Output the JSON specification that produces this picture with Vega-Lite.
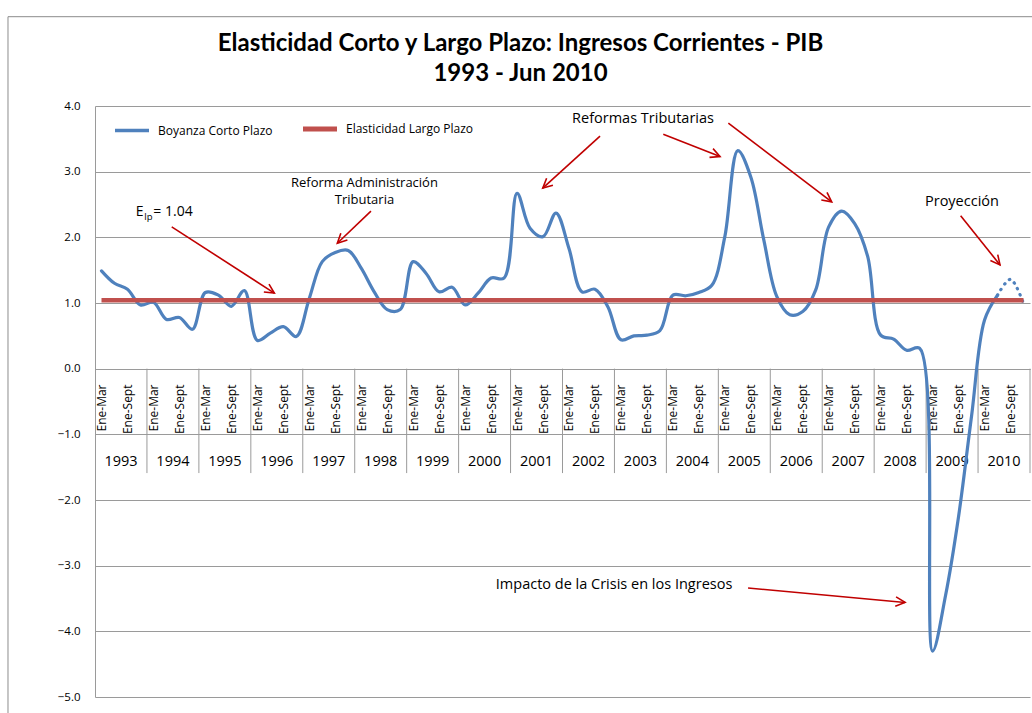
{
  "$schema": "https://vega.github.io/schema/vega-lite/v6.json",
  "autosize": {"type": "none"},
  "padding": {"left": 95, "top": 106, "right": 2, "bottom": 16},
  "width": 935,
  "height": 591,
  "background": "white",
  "config": {
    "font": "Open Sans",
    "view": {"stroke": null},
    "axis": {"labelFont": "Open Sans", "labelColor": "#000000", "titleFont": "Open Sans"},
    "legend": {"labelFont": "Open Sans"}
  },
  "title": {
    "text": ["Elasticidad Corto y Largo Plazo: Ingresos Corrientes - PIB", "1993 - Jun 2010"],
    "font": "Lato",
    "fontSize": 24,
    "fontWeight": "bold",
    "color": "#000000",
    "anchor": "middle",
    "dx": -42,
    "lineHeight": 30,
    "offset": -70
  },
  "datasets": {
    "boyanza": [
      {"q": 0, "v": 1.49}, {"q": 1, "v": 1.30}, {"q": 2, "v": 1.21}, {"q": 3, "v": 0.97},
      {"q": 4, "v": 1.01}, {"q": 5, "v": 0.75}, {"q": 6, "v": 0.78}, {"q": 7, "v": 0.60},
      {"q": 8, "v": 1.16}, {"q": 9, "v": 1.12}, {"q": 10, "v": 0.95}, {"q": 11, "v": 1.19},
      {"q": 12, "v": 0.43}, {"q": 13, "v": 0.54}, {"q": 14, "v": 0.64}, {"q": 15, "v": 0.49},
      {"q": 16, "v": 1.07}, {"q": 17, "v": 1.63}, {"q": 18, "v": 1.77}, {"q": 19, "v": 1.80},
      {"q": 20, "v": 1.53}, {"q": 21, "v": 1.17}, {"q": 22, "v": 0.90}, {"q": 23, "v": 0.90},
      {"q": 24, "v": 1.63}, {"q": 25, "v": 1.45}, {"q": 26, "v": 1.17}, {"q": 27, "v": 1.24},
      {"q": 28, "v": 0.97}, {"q": 29, "v": 1.15}, {"q": 30, "v": 1.38}, {"q": 31, "v": 1.38},
      {"q": 32, "v": 2.67}, {"q": 33, "v": 2.14}, {"q": 34, "v": 2.01}, {"q": 35, "v": 2.37},
      {"q": 36, "v": 1.83}, {"q": 37, "v": 1.17}, {"q": 38, "v": 1.21}, {"q": 39, "v": 0.94},
      {"q": 40, "v": 0.44}, {"q": 41, "v": 0.50}, {"q": 42, "v": 0.51}, {"q": 43, "v": 0.58},
      {"q": 44, "v": 1.12}, {"q": 45, "v": 1.11}, {"q": 46, "v": 1.16}, {"q": 47, "v": 1.27},
      {"q": 48, "v": 2.01}, {"q": 49, "v": 3.32}, {"q": 50, "v": 2.92}, {"q": 51, "v": 1.96},
      {"q": 52, "v": 1.10}, {"q": 53, "v": 0.82}, {"q": 54, "v": 0.87}, {"q": 55, "v": 1.20},
      {"q": 56, "v": 2.16}, {"q": 57, "v": 2.40}, {"q": 58, "v": 2.21}, {"q": 59, "v": 1.71},
      {"q": 60, "v": 0.51}, {"q": 61, "v": 0.45}, {"q": 62, "v": 0.28}, {"q": 63, "v": 0.31},
      {"q": 64, "v": -4.3}, {"q": 65, "v": -3.45}, {"q": 66, "v": -2.25}, {"q": 67, "v": -0.72},
      {"q": 68, "v": 0.74}, {"q": 69, "v": 1.12}
    ],
    "proyeccion": [
      {"q": 69, "v": 1.12}, {"q": 70, "v": 1.36}, {"q": 71, "v": 0.99}
    ],
    "elasticidad": [
      {"q": 0, "v": 1.04}, {"q": 71, "v": 1.04}
    ],
    "anios": [
      {"q": 1.5, "v": -1.42, "anio": "1993"}, {"q": 5.5, "v": -1.42, "anio": "1994"}, {"q": 9.5, "v": -1.42, "anio": "1995"},
      {"q": 13.5, "v": -1.42, "anio": "1996"}, {"q": 17.5, "v": -1.42, "anio": "1997"}, {"q": 21.5, "v": -1.42, "anio": "1998"},
      {"q": 25.5, "v": -1.42, "anio": "1999"}, {"q": 29.5, "v": -1.42, "anio": "2000"}, {"q": 33.5, "v": -1.42, "anio": "2001"},
      {"q": 37.5, "v": -1.42, "anio": "2002"}, {"q": 41.5, "v": -1.42, "anio": "2003"}, {"q": 45.5, "v": -1.42, "anio": "2004"},
      {"q": 49.5, "v": -1.42, "anio": "2005"}, {"q": 53.5, "v": -1.42, "anio": "2006"}, {"q": 57.5, "v": -1.42, "anio": "2007"},
      {"q": 61.5, "v": -1.42, "anio": "2008"}, {"q": 65.5, "v": -1.42, "anio": "2009"}, {"q": 69.5, "v": -1.42, "anio": "2010"}
    ],
    "separadores": [
      {"q": 3.5, "v": 0, "v2": -1.59}, {"q": 7.5, "v": 0, "v2": -1.59}, {"q": 11.5, "v": 0, "v2": -1.59},
      {"q": 15.5, "v": 0, "v2": -1.59}, {"q": 19.5, "v": 0, "v2": -1.59}, {"q": 23.5, "v": 0, "v2": -1.59},
      {"q": 27.5, "v": 0, "v2": -1.59}, {"q": 31.5, "v": 0, "v2": -1.59}, {"q": 35.5, "v": 0, "v2": -1.59},
      {"q": 39.5, "v": 0, "v2": -1.59}, {"q": 43.5, "v": 0, "v2": -1.59}, {"q": 47.5, "v": 0, "v2": -1.59},
      {"q": 51.5, "v": 0, "v2": -1.59}, {"q": 55.5, "v": 0, "v2": -1.59}, {"q": 59.5, "v": 0, "v2": -1.59},
      {"q": 63.5, "v": 0, "v2": -1.59}, {"q": 67.5, "v": 0, "v2": -1.59}, {"q": 71.5, "v": 0, "v2": -1.59}
    ],
    "flechas": [
      {"q": 5.41, "v": 2.16, "q2": 13.31, "v2": 1.15},
      {"q": 20.75, "v": 2.40, "q2": 18.16, "v2": 1.91},
      {"q": 38.39, "v": 3.54, "q2": 33.98, "v2": 2.75},
      {"q": 43.26, "v": 3.57, "q2": 47.63, "v2": 3.23},
      {"q": 48.27, "v": 3.74, "q2": 56.23, "v2": 2.54},
      {"q": 66.16, "v": 2.33, "q2": 69.19, "v2": 1.58},
      {"q": 49.79, "v": -3.34, "q2": 61.88, "v2": -3.56}
    ],
    "puntas": [
      {"q": 13.31, "v": 1.15, "ang": 123},
      {"q": 18.16, "v": 1.91, "ang": 226},
      {"q": 33.98, "v": 2.75, "ang": 228},
      {"q": 47.63, "v": 3.23, "ang": 112},
      {"q": 56.23, "v": 2.54, "ang": 127},
      {"q": 69.19, "v": 1.58, "ang": 141},
      {"q": 61.88, "v": -3.56, "ang": 95}
    ],
    "notas": [
      {"q": 20.25, "v": 2.83, "texto": "Reforma Administración"},
      {"q": 20.25, "v": 2.57, "texto": "Tributaria"}
    ],
    "notas_grandes": [
      {"q": 41.7, "v": 3.8, "texto": "Reformas Tributarias"},
      {"q": 66.26, "v": 2.54, "texto": "Proyección"},
      {"q": 39.47, "v": -3.29, "texto": "Impacto de la Crisis en los Ingresos"}
    ],
    "elp": [
      {"q": 2.63, "v": 2.39, "parte": "E"},
      {"q": 3.99, "v": 2.39, "parte": "= 1.04"}
    ],
    "elp_sub": [
      {"q": 3.3, "v": 2.31, "parte": "lp"}
    ],
    "marco": [
      {"q": -7.2, "v": 5.36, "q2": -7.2, "v2": -5.3},
      {"q": -7.2, "v": 5.36, "q2": 71.7, "v2": 5.36}
    ]
  },
  "encoding": {
    "x": {
      "field": "q", "type": "quantitative",
      "scale": {"domain": [-0.5, 71.5], "nice": false, "zero": false},
      "axis": {
        "title": null,
        "values": [0, 2, 4, 6, 8, 10, 12, 14, 16, 18, 20, 22, 24, 26, 28, 30, 32, 34, 36, 38, 40, 42, 44, 46, 48, 50, 52, 54, 56, 58, 60, 62, 64, 66, 68, 70],
        "labelExpr": "datum.value % 4 == 0 ? 'Ene-Mar' : 'Ene-Sept'",
        "labelAngle": -90,
        "labelFontSize": 12,
        "labelPadding": 15,
        "labelOverlap": false,
        "labelFlush": false,
        "ticks": false,
        "grid": false,
        "domainColor": "#9a9a9a",
        "domainWidth": 1,
        "offset": -328
      }
    },
    "y": {
      "field": "v", "type": "quantitative",
      "scale": {"domain": [-5, 4], "nice": false, "zero": false},
      "axis": {
        "title": null,
        "values": [-5, -4, -3, -2, -1, 0, 1, 2, 3, 4],
        "format": ".1f",
        "labelFontSize": 11.5,
        "labelPadding": 15,
        "ticks": false,
        "grid": true,
        "gridColor": "#9a9a9a",
        "gridWidth": 1,
        "domainColor": "#9a9a9a",
        "domainWidth": 1
      }
    }
  },
  "layer": [
    {
      "data": {"name": "separadores"},
      "mark": {"type": "rule", "color": "#9a9a9a", "strokeWidth": 1},
      "encoding": {"y2": {"field": "v2"}}
    },
    {
      "data": {"name": "anios"},
      "mark": {"type": "text", "fontSize": 14.5, "font": "Open Sans", "color": "#000000", "baseline": "middle", "align": "center"},
      "encoding": {"text": {"field": "anio", "type": "nominal"}}
    },
    {
      "data": {"name": "boyanza"},
      "transform": [{"calculate": "'Boyanza Corto Plazo'", "as": "serie"}],
      "mark": {"type": "line", "interpolate": "catmull-rom", "strokeWidth": 3.2, "strokeCap": "round", "strokeJoin": "round"},
      "encoding": {
        "color": {
          "field": "serie", "type": "nominal",
          "scale": {"domain": ["Boyanza Corto Plazo", "Elasticidad Largo Plazo"], "range": ["#4F81BD", "#C0504D"]},
          "legend": {
            "title": null,
            "orient": "none",
            "legendX": 31,
            "legendY": 17,
            "direction": "horizontal",
            "symbolType": "stroke",
            "symbolSize": 1156,
            "labelFontSize": 12,
            "labelColor": "#000000",
            "labelOffset": 20,
            "columnPadding": 20,
            "padding": 0,
            "encode": {
              "symbols": {"update": {"strokeWidth": {"signal": "datum.value === 'Elasticidad Largo Plazo' ? 5 : 3.5"}}}
            }
          }
        }
      }
    },
    {
      "data": {"name": "proyeccion"},
      "mark": {"type": "line", "interpolate": "catmull-rom", "strokeWidth": 3.2, "strokeCap": "round", "strokeDash": [0.5, 6], "color": "#4F81BD"},
      "encoding": {}
    },
    {
      "data": {"name": "elasticidad"},
      "transform": [{"calculate": "'Elasticidad Largo Plazo'", "as": "serie"}],
      "mark": {"type": "line", "strokeWidth": 4.5},
      "encoding": {"color": {"field": "serie", "type": "nominal"}}
    },
    {
      "data": {"name": "flechas"},
      "mark": {"type": "rule", "color": "#C00000", "strokeWidth": 1.6},
      "encoding": {"x2": {"field": "q2"}, "y2": {"field": "v2"}}
    },
    {
      "data": {"name": "puntas"},
      "mark": {"type": "point", "shape": "M-0.45,0.9L0,0L0.45,0.9", "filled": false, "color": "#C00000", "strokeWidth": 1.6, "size": 440, "opacity": 1},
      "encoding": {"angle": {"field": "ang", "type": "quantitative", "scale": null}}
    },
    {
      "data": {"name": "notas"},
      "mark": {"type": "text", "fontSize": 13, "align": "center", "baseline": "middle", "color": "#000000"},
      "encoding": {"text": {"field": "texto", "type": "nominal"}}
    },
    {
      "data": {"name": "notas_grandes"},
      "mark": {"type": "text", "fontSize": 14.5, "align": "center", "baseline": "middle", "color": "#000000"},
      "encoding": {"text": {"field": "texto", "type": "nominal"}}
    },
    {
      "data": {"name": "elp"},
      "mark": {"type": "text", "fontSize": 14, "align": "left", "baseline": "middle", "color": "#000000"},
      "encoding": {"text": {"field": "parte", "type": "nominal"}}
    },
    {
      "data": {"name": "elp_sub"},
      "mark": {"type": "text", "fontSize": 9.5, "align": "left", "baseline": "middle", "color": "#000000"},
      "encoding": {"text": {"field": "parte", "type": "nominal"}}
    },
    {
      "data": {"name": "marco"},
      "mark": {"type": "rule", "color": "#8c8c8c", "strokeWidth": 1},
      "encoding": {"x2": {"field": "q2"}, "y2": {"field": "v2"}}
    }
  ]
}
